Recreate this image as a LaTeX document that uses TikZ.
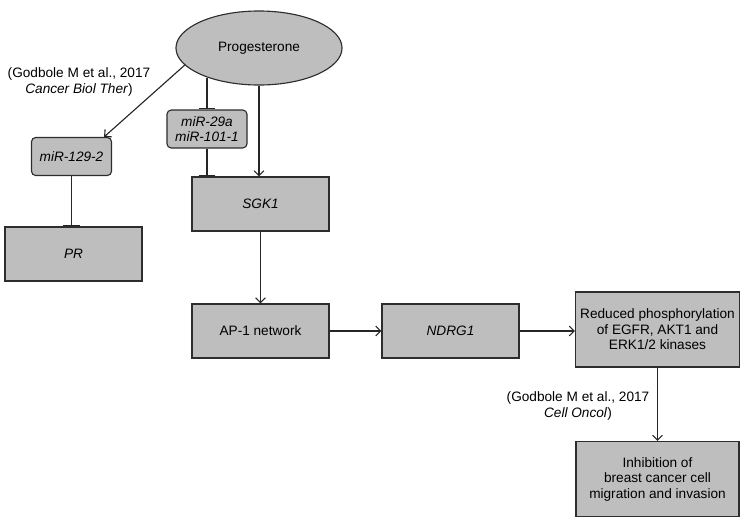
\documentclass[tikz,border=0pt]{standalone}
\usepackage{fontspec}
\setmainfont{Liberation Sans}
\usepackage{tikz}
\usetikzlibrary{arrows.meta}
\usetikzlibrary{shapes.geometric}

\definecolor{boxfill}{RGB}{190,190,190}
\definecolor{boxline}{RGB}{45,45,45}

\begin{document}
\begin{tikzpicture}[x=0.025cm, y=-0.025cm]
\tikzset{base/.style = {draw=boxline, fill=boxfill, line width=0.8pt, align=center,
    font=\fontsize{9.7}{11}\selectfont}}
\tikzset{genebox/.style = {base, minimum width=3.425cm, minimum height=1.35cm}}
\tikzset{bigbox/.style = {base, minimum width=4.075cm, minimum height=1.875cm}}
\tikzset{mirbox/.style = {base, rounded corners=3pt, minimum width=2cm, minimum height=0.95cm}}
\tikzset{hormone/.style = {base, ellipse, minimum width=4.15cm, minimum height=1.85cm}}
\tikzset{cite/.style = {align=center, font=\fontsize{9.7}{11}\selectfont}}
\tikzset{act/.style = {-{Straight Barb[length=3.5pt, width=7pt]}, line width=0.8pt, draw=black!85}}
\tikzset{inh/.style = {-{Bar[width=12pt, line width=0.8pt]}, line width=0.8pt, draw=black!85}}
\useasboundingbox (0,0) rectangle (745,522);
\node[hormone](prog) at (259, 48) {Progesterone};
\node[mirbox](mira) at (71.5, 156.5) {\textit{miR-129-2}};
\node[mirbox](mirb) at (207, 129) {\textit{miR-29a}\\\textit{miR-101-1}};
\node[genebox](sgk) at (260.5, 204) {\textit{SGK1}};
\node[genebox](pr) at (73.5, 254) {\textit{PR}};
\node[genebox](ap) at (260.5, 331) {AP-1 network};
\node[genebox](ndrg) at (450.5, 331) {\textit{NDRG1}};
\node[bigbox](phos) at (657.5, 329.5) {Reduced phosphorylation\\of EGFR, AKT1 and\\ERK1/2 kinases};
\node[bigbox](inhib) at (657.5, 479) {Inhibition of\\breast cancer cell\\migration and invasion};
\node[cite](cite1) at (79, 82) {(Godbole M et al., 2017\\\textit{Cancer Biol Ther})};
\node[cite](cite2) at (578, 406) {(Godbole M et al., 2017\\\textit{Cell Oncol})};
\draw[act] (prog.193) -- ([xshift=-0.2cm]mira.north east);
\draw[inh] (prog.210 -| mirb.north) -- (mirb.north);
\draw[inh] (mirb.south) -- (mirb.south |- sgk.north);
\draw[act] (prog.south) -- (prog.south |- sgk.north);
\draw[inh] (mira.south) -- (mira.south |- pr.north);
\draw[act] (sgk) -- (ap);
\draw[act] (ap) -- (ndrg);
\draw[act] (ndrg) -- (ndrg -| phos.west);
\draw[act] (phos) -- (inhib);
\end{tikzpicture}
\end{document}
